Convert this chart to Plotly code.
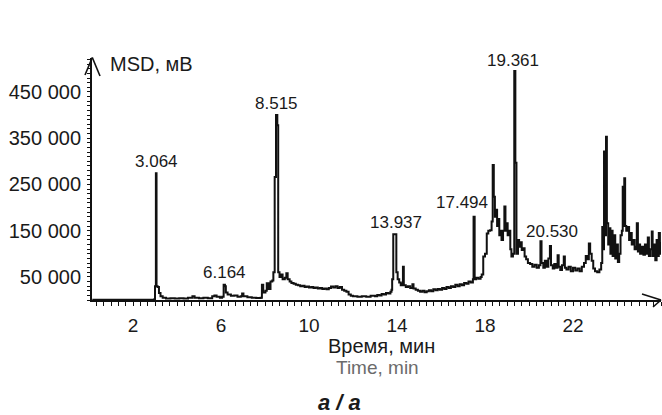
import plotly.graph_objects as go

# ---------------- data ----------------
time_min = [
    0.15, 0.5, 1.0, 1.5, 2.0, 2.5, 2.95,
    2.98, 3.00, 3.04, 3.07, 3.12, 3.18, 3.25, 3.35, 3.5,
    3.7, 3.9, 4.1, 4.3, 4.5, 4.7, 4.8, 5.0, 5.2, 5.4, 5.6, 5.7, 5.8, 5.95,
    6.05, 6.12, 6.18, 6.22, 6.3, 6.45, 6.6, 6.75, 6.9, 6.96, 7.02, 7.2, 7.4, 7.6, 7.8,
    7.86, 7.92, 8.02, 8.08, 8.16, 8.25, 8.33, 8.38, 8.44, 8.50, 8.56, 8.60, 8.66, 8.72,
    8.8, 8.9, 8.97, 9.03, 9.12, 9.2,
    9.3, 9.4, 9.5, 9.6, 9.7, 9.8, 9.9, 10.0, 10.1, 10.2, 10.3, 10.4, 10.5, 10.6, 10.7,
    10.8, 10.9, 11.0, 11.1, 11.2, 11.3, 11.4, 11.5, 11.6, 11.7, 11.8, 11.9,
    12.0, 12.2, 12.4, 12.6, 12.8, 13.0, 13.1, 13.2, 13.3, 13.4, 13.5, 13.6, 13.7,
    13.75, 13.78, 13.83, 13.97, 14.03, 14.1, 14.17, 14.22, 14.27, 14.31, 14.4, 14.5,
    14.6, 14.7, 14.75, 14.85, 14.95, 15.05, 15.15, 15.25, 15.35, 15.45, 15.55, 15.65,
    15.75, 15.85, 15.95, 16.05, 16.15, 16.25, 16.35, 16.45, 16.55, 16.65, 16.75, 16.85,
    16.95, 17.05, 17.15, 17.25, 17.35, 17.45,
    17.48, 17.53, 17.6, 17.7, 17.8, 17.85, 17.92, 18.0, 18.08, 18.15, 18.23, 18.3,
    18.35, 18.4, 18.45, 18.5, 18.55, 18.6, 18.65, 18.7, 18.75, 18.82, 18.88, 18.93,
    18.98, 19.03, 19.1, 19.15, 19.2, 19.27, 19.33, 19.38, 19.43, 19.5, 19.55, 19.6,
    19.67, 19.73, 19.8, 19.87, 19.95, 20.05, 20.15, 20.25, 20.35, 20.45,
    20.52, 20.57, 20.65, 20.72, 20.8, 20.88, 20.95, 21.0, 21.08, 21.15, 21.22, 21.3,
    21.35, 21.42, 21.5, 21.58, 21.63, 21.7, 21.8, 21.9, 22.0, 22.1, 22.2, 22.3, 22.4,
    22.5, 22.58, 22.65, 22.72, 22.78, 22.85, 22.92, 23.0, 23.1, 23.2, 23.28,
    23.33, 23.38, 23.41, 23.45, 23.5, 23.54, 23.6, 23.65, 23.7, 23.75, 23.8, 23.86,
    23.92, 23.98, 24.04, 24.1, 24.16, 24.22, 24.26, 24.3, 24.33, 24.37, 24.42,
    24.48, 24.55, 24.6, 24.67, 24.73, 24.8, 24.86, 24.9, 24.95, 25.0, 25.05, 25.12,
    25.2, 25.27, 25.33, 25.4, 25.45, 25.52, 25.58, 25.62, 25.68, 25.74, 25.8, 25.85,
    25.9, 25.95, 26.0,
]
signal_mv = [
    600, 600, 700, 600, 700, 600, 700,
    2000, 30000, 274000, 30000, 28000, 15000, 8000, 5000, 3000,
    4000, 3000, 4000, 3500, 5000, 8000, 5000, 4000, 5000, 4000, 8000, 10000, 7000, 5000,
    7000, 33000, 30000, 16000, 12000, 9000, 10000, 7000, 8000, 14000, 8000, 6000, 5000, 4500, 5000,
    33000, 16000, 20000, 36000, 24000, 40000, 42000, 60000, 266000, 400000, 378000, 60000, 50000, 55000,
    45000, 48000, 58000, 45000, 40000, 37000,
    35000, 33000, 32000, 30000, 31000, 28000, 29000, 27000, 28000, 26000, 27000, 25000, 26000, 24000, 25000,
    23000, 26000, 29000, 27000, 30000, 26000, 28000, 22000, 20000, 18000, 12000, 9000,
    8000, 7000, 8000, 7000, 9000, 8000, 11000, 10000, 13000, 12000, 15000, 14000, 18000,
    22000, 45000, 142000, 60000, 45000, 38000, 32000, 35000, 72000, 32000, 28000, 30000,
    26000, 34000, 25000, 22000, 20000, 18000, 20000, 17000, 19000, 21000, 19000, 23000,
    21000, 24000, 22000, 26000, 24000, 28000, 26000, 30000, 28000, 33000, 30000, 34000,
    32000, 37000, 35000, 40000, 38000, 45000,
    180000, 45000, 48000, 46000, 50000, 55000, 94000, 100000, 144000, 150000, 151000, 170000,
    292000, 223000, 180000, 195000, 160000, 175000, 140000, 150000, 130000, 150000, 202000, 150000,
    166000, 140000, 150000, 110000, 94000, 100000, 495000, 297000, 100000, 130000, 115000, 125000,
    108000, 112000, 94000, 88000, 80000, 78000, 72000, 76000, 70000, 75000,
    127000, 80000, 70000, 85000, 72000, 90000, 117000, 75000, 68000, 78000, 70000, 97000,
    72000, 65000, 75000, 94000, 70000, 66000, 72000, 62000, 70000, 64000, 68000, 62000, 72000,
    80000, 95000, 88000, 122000, 100000, 85000, 68000, 62000, 60000, 66000, 80000,
    158000, 110000, 321000, 140000, 353000, 166000, 120000, 155000, 100000, 150000, 95000, 140000,
    90000, 120000, 82000, 100000, 140000, 150000, 245000, 160000, 263000, 160000, 150000,
    158000, 130000, 145000, 120000, 130000, 110000, 115000, 166000, 105000, 120000, 100000, 115000,
    98000, 120000, 100000, 135000, 95000, 110000, 148000, 95000, 120000, 86000, 130000, 95000,
    145000, 100000, 125000,
]

peak_labels = ["3.064", "6.164", "8.515", "13.937", "17.494", "19.361", "20.530"]

x_tick_vals = [2, 6, 10, 14, 18, 22]
x_tick_text = ["2", "6", "10", "14", "18", "22"]
y_tick_vals = [50000, 150000, 250000, 350000, 450000]
y_tick_text = ["50 000", "150 000", "250 000", "350 000", "450 000"]

y_title = "MSD, мВ"
x_title_ru = "Время, мин"
x_title_en = "Time, min"
panel_label = "<b><i>a / a</i></b>"

# ---------------- layout geometry (pixels) ----------------
W, H = 662, 415
L, R, T, B = 92, 661, 58, 300
X0PX, PX_PER_MIN = 89, 22.0
PX_PER_UNIT = 46.25e-5
x_range = [(L - X0PX) / PX_PER_MIN, (R - X0PX) / PX_PER_MIN]
y_range = [0, (B - T) / PX_PER_UNIT]


def pp(px, py):
    return (px - L) / (R - L), (B - py) / (B - T)


FONT = "Liberation Sans, Arial, sans-serif"
INK = "#1a1a1a"

fig = go.Figure()
fig.add_trace(go.Scatter(
    x=time_min, y=signal_mv, mode="lines",
    line=dict(color="#111111", width=2, shape="hv"),
    hoverinfo="skip", showlegend=False,
))

# peak labels
label_xshift = [0, 0, 0, 0, -12, -2, 11]
label_yshift = [12, 12, 12, 12, 14, 11, 10]
for lbl, dx, dy in zip(peak_labels, label_xshift, label_yshift):
    t = float(lbl)
    peak = max(v for tt, v in zip(time_min, signal_mv) if abs(tt - t) <= 0.12)
    fig.add_annotation(x=t, y=peak, text=lbl, showarrow=False,
                       xanchor="center", yanchor="middle",
                       xshift=dx, yshift=dy,
                       font=dict(family=FONT, size=17, color=INK))

# titles
for text, px, py, size, color, anchor in [
    (y_title, 108, 64, 20, INK, "left"),
    (x_title_ru, 381, 346, 20, INK, "center"),
    (x_title_en, 377, 367, 19, "#6b6b6b", "center"),
    (panel_label, 339, 402, 22, INK, "center"),
]:
    xp, yp = pp(px, py)
    fig.add_annotation(x=xp, y=yp, xref="paper", yref="paper", text=text,
                       showarrow=False, xanchor=anchor, yanchor="middle",
                       font=dict(family=FONT, size=size, color=color))

# axis arrow heads
arrow_segments = [
    ((85, 75), (92.3, 57.5)), ((92.3, 57.5), (100, 76)),
    ((642, 294), (661, 300)), ((661, 300), (653, 307)),
]
for (ax0, ay0), (ax1, ay1) in arrow_segments:
    x0p, y0p = pp(ax0, ay0)
    x1p, y1p = pp(ax1, ay1)
    fig.add_shape(type="line", xref="paper", yref="paper",
                  x0=x0p, y0=y0p, x1=x1p, y1=y1p,
                  line=dict(color="#111111", width=1.6))

fig.update_xaxes(
    range=x_range, showgrid=False, zeroline=False,
    showline=True, linecolor="#111111", linewidth=2,
    tickvals=x_tick_vals, ticktext=x_tick_text,
    ticks="outside", ticklen=4, tickwidth=1.2, tickcolor="#111111",
    minor=dict(dtick=1 / 3, tick0=0, ticks="outside", ticklen=4,
               tickwidth=1.2, tickcolor="#111111"),
    tickfont=dict(family=FONT, size=19, color=INK),
    ticklabelstandoff=3,
)
fig.update_yaxes(
    range=y_range, showgrid=False, zeroline=False,
    showline=True, linecolor="#111111", linewidth=2,
    tickvals=y_tick_vals, ticktext=y_tick_text,
    ticks="outside", ticklen=3, tickwidth=1.2, tickcolor="#111111",
    minor=dict(dtick=10000, tick0=0, ticks="outside", ticklen=3,
               tickwidth=1, tickcolor="#111111"),
    tickfont=dict(family=FONT, size=20, color=INK),
    ticklabelstandoff=2,
)

fig.update_layout(
    width=W, height=H,
    margin=dict(l=L, r=W - R, t=T, b=H - B, pad=0),
    paper_bgcolor="white", plot_bgcolor="white",
    font=dict(family=FONT, color=INK),
)

fig.write_html(
    "out.html",
    config={"displayModeBar": False},
    post_script="document.body.style.margin='0';document.body.style.overflow='hidden';",
)
